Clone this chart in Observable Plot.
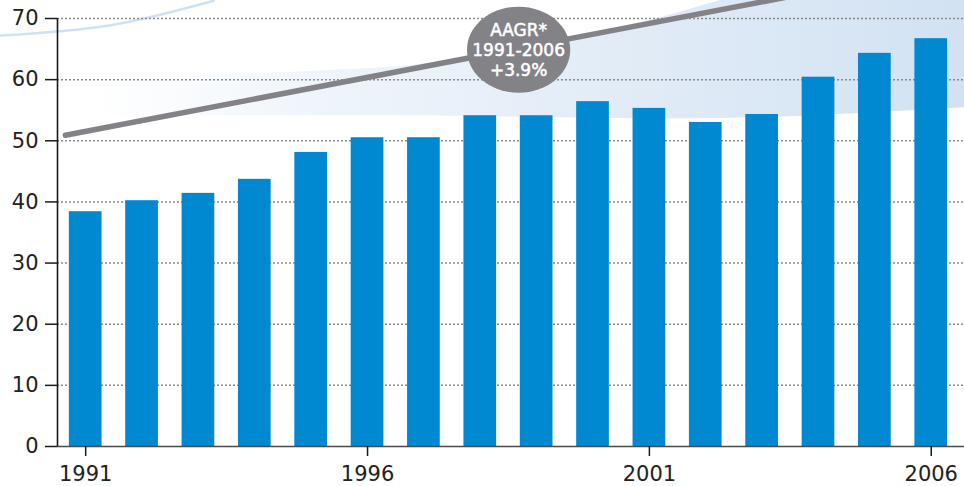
<!DOCTYPE html>
<html><head><meta charset="utf-8">
<script src="https://cdn.jsdelivr.net/npm/d3@7"></script>
<script src="https://cdn.jsdelivr.net/npm/@observablehq/plot@0.6"></script>
<style>
html,body{margin:0;padding:0;background:#fff;}
#chart svg{display:block;overflow:visible}
</style></head><body><div id="chart"></div>
<script>
const years = [1991,1992,1993,1994,1995,1996,1997,1998,1999,2000,2001,2002,2003,2004,2005,2006];
const values = [38.4,40.2,41.4,43.7,48.1,50.5,50.5,54.1,54.1,56.4,55.3,53.0,54.3,60.4,64.3,66.7];
const yTicks = [0,10,20,30,40,50,60,70];
const xTicks = [1991,1996,2001,2006];
const trendYears = [1990.64, 2006.5];
const trendValues = [50.9, 78.9];
const badgeLines = ["AAGR*","1991-2006","+3.9%"];
const badgeYear = [1998.68];
const badgeValue = [64.9];
const swooshYears = [1991.09, 1995.34, 1997.77, 2001.02, 2003.68, 2006.59];
const swooshLow = [54.1, 54.1, 54.0, 53.6, 54.0, 55.4];
const swooshHigh = [60.0, 61.5, 63.6, 69.7, 76.2, 78.0];
const arcYears = [1989.49, 1991.44, 1993.27];
const arcValues = [67.2, 68.9, 72.9];

const bars = years.map((year, i) => ({year, value: values[i]}));
const trend = trendYears.map((year, i) => ({year, value: trendValues[i]}));
const swoosh = swooshYears.map((year, i) => ({year, low: swooshLow[i], high: swooshHigh[i]}));
const arc = arcYears.map((year, i) => ({year, value: arcValues[i]}));
const badge = [{year: badgeYear[0], value: badgeValue[0], label: badgeLines.join("\n")}];

const ellipse = {draw(ctx, size) {
  const r = Math.sqrt(size / Math.PI), rx = r * 1.2, ry = r, k = 0.5523;
  ctx.moveTo(rx, 0);
  ctx.bezierCurveTo(rx, ry*k, rx*k, ry, 0, ry);
  ctx.bezierCurveTo(-rx*k, ry, -rx, ry*k, -rx, 0);
  ctx.bezierCurveTo(-rx, -ry*k, -rx*k, -ry, 0, -ry);
  ctx.bezierCurveTo(rx*k, -ry, rx, -ry*k, rx, 0);
  ctx.closePath();
}};

const FONT = "'DejaVu Sans', 'Liberation Sans', Arial, sans-serif";

const chart = Plot.plot({
  width: 964, height: 486,
  marginTop: 18, marginBottom: 40, marginLeft: 57, marginRight: 0,
  style: {fontFamily: FONT, color: "#222", background: "transparent", overflow: "visible"},
  x: {type: "linear", domain: [1990.5, 2006.59]},
  y: {domain: [0, 70]},
  marks: [
    Plot.areaY(swoosh, {x: "year", y1: "low", y2: "high", curve: "natural", fill: "url(#swooshGrad)"}),
    Plot.line(arc, {x: "year", y: "value", curve: "natural", stroke: "#cfe2f4", strokeWidth: 2.5}),
    Plot.gridY(yTicks.filter(v => v > 0), {stroke: "#8a8a8a", strokeOpacity: 1, strokeDasharray: "2,2", strokeWidth: 1.5}),
    Plot.rectY(bars, {x1: d => d.year - 0.29, x2: d => d.year + 0.29, y: "value", fill: "#0088d1"}),
    Plot.ruleY([0], {stroke: "#4a4a4a", strokeWidth: 1.5}),
    Plot.ruleX([1990.5], {y1: 0, y2: 70, stroke: "#1a1a1a", strokeWidth: 1.6}),
    Plot.axisY({ticks: yTicks, label: null, tickSize: 12, tickPadding: 7, fontSize: 21, stroke: "#1a1a1a", strokeWidth: 1.5}),
    Plot.axisX({ticks: xTicks, label: null, tickFormat: d => String(d), tickSize: 10, tickPadding: 10, fontSize: 21, stroke: "#1a1a1a", strokeWidth: 1.5}),
    Plot.line(trend, {x: "year", y: "value", stroke: "#838287", strokeWidth: 5.5}),
    Plot.dot(badge, {x: "year", y: "value", r: 43, symbol: ellipse, fill: "#838287", stroke: "none"}),
    Plot.text(badge, {x: "year", y: "value", text: "label", fill: "white", stroke: "white", strokeWidth: 0.5, fontSize: 17, lineHeight: 1.18, fontFamily: FONT})
  ]
});

const defs = d3.select(chart).insert("defs", ":first-child");
const g = defs.append("linearGradient").attr("id", "swooshGrad").attr("x1", "0").attr("x2", "1").attr("y1", "0").attr("y2", "0");
g.append("stop").attr("offset", "0").attr("stop-color", "#f2f7fc").attr("stop-opacity", 0);
g.append("stop").attr("offset", "0.25").attr("stop-color", "#eff5fb").attr("stop-opacity", 1);
g.append("stop").attr("offset", "0.6").attr("stop-color", "#e2ecf7").attr("stop-opacity", 1);
g.append("stop").attr("offset", "1").attr("stop-color", "#d2e2f3").attr("stop-opacity", 1);
document.getElementById("chart").appendChild(chart);
</script></body></html>
